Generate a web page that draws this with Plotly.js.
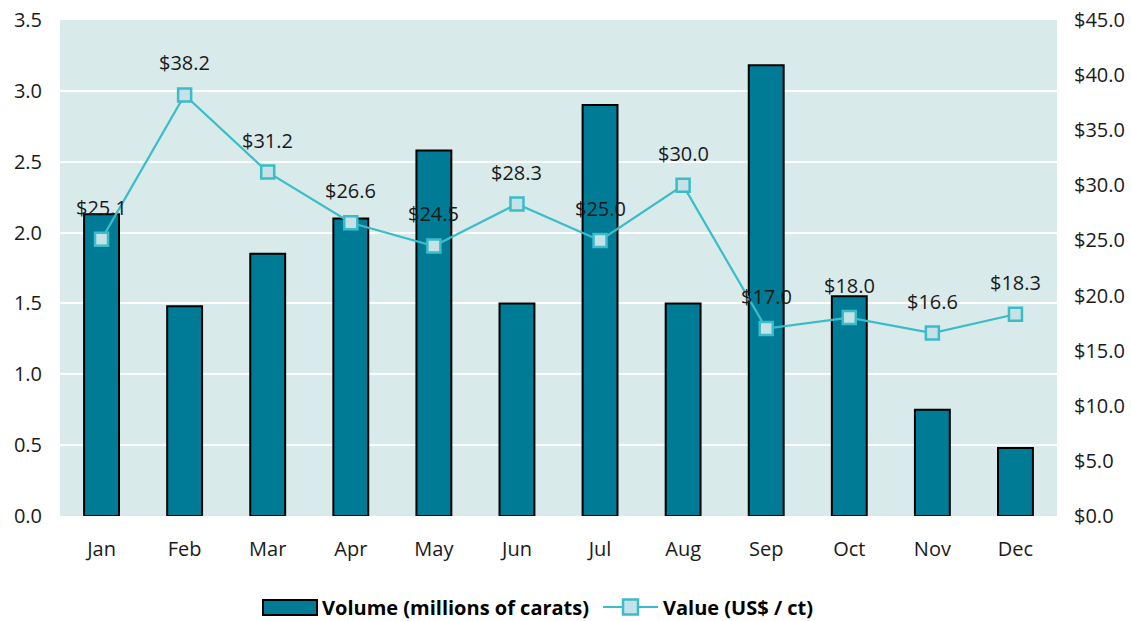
<!DOCTYPE html>
<html>
<head>
<meta charset="utf-8">
<script src="https://cdn.plot.ly/plotly-3.0.1.min.js"></script>
<style>
  html, body { margin: 0; padding: 0; background: #ffffff; }
  #chart { width: 1131px; height: 621px; }
</style>
</head>
<body>
<div id="chart"></div>
<script>
// Monthly rough diamond sales: volume (bars) and average value (line)
const months = ['Jan', 'Feb', 'Mar', 'Apr', 'May', 'Jun', 'Jul', 'Aug', 'Sep', 'Oct', 'Nov', 'Dec'];
const volume = [2.13, 1.48, 1.85, 2.10, 2.58, 1.50, 2.90, 1.50, 3.18, 1.55, 0.75, 0.48];
const value = [25.1, 38.2, 31.2, 26.6, 24.5, 28.3, 25.0, 30.0, 17.0, 18.0, 16.6, 18.3];

const leftTicks = [0, 0.5, 1, 1.5, 2, 2.5, 3, 3.5];
const rightTicks = [0, 5, 10, 15, 20, 25, 30, 35, 40, 45];

const volumeName = 'Volume (millions of carats)';
const valueName = 'Value (US$ / ct)';

const FONT = '"Open Sans", "Noto Sans", sans-serif';
const TEXT_SIZE = 20;
const BAR_COLOR = '#007b96';
const LINE_COLOR = '#3bbcc9';
const MARKER_FILL = '#c5e3e6';

// Plot area in pixels (used to place the hand-built legend)
const W = 1131, H = 621;
const M = { l: 60, r: 74, t: 20, b: 105 };
const px = x => (x - M.l) / (W - M.l - M.r);
const py = y => (H - M.b - y) / (H - M.t - M.b);

const traces = [
  {
    type: 'bar',
    name: volumeName,
    x: months,
    y: volume,
    width: 0.42,
    marker: { color: BAR_COLOR, line: { color: '#000000', width: 2 } },
    hoverinfo: 'y'
  },
  {
    type: 'scatter',
    mode: 'lines+markers',
    name: valueName,
    x: months,
    y: value,
    yaxis: 'y2',
    line: { color: LINE_COLOR, width: 2.2 },
    marker: { symbol: 'square', size: 13, color: MARKER_FILL, line: { color: LINE_COLOR, width: 2.5 } },
    cliponaxis: false
  }
];

// Value labels above each point
const valueLabels = months.map((m, i) => ({
  x: m, y: value[i], xref: 'x', yref: 'y2',
  text: '$' + value[i].toFixed(1),
  showarrow: false, yshift: 32,
  font: { family: FONT, size: TEXT_SIZE, color: '#1a1a1a' }
}));

// Legend row below the plot
const legendY = 607;
const legendAnnotations = [
  { x: px(320), y: py(legendY), xref: 'paper', yref: 'paper', xanchor: 'left', yanchor: 'middle',
    text: '<b>' + volumeName + '</b>', showarrow: false,
    font: { family: FONT, size: TEXT_SIZE, color: '#000000' } },
  { x: px(661), y: py(legendY), xref: 'paper', yref: 'paper', xanchor: 'left', yanchor: 'middle',
    text: '<b>' + valueName + '</b>', showarrow: false,
    font: { family: FONT, size: TEXT_SIZE, color: '#000000' } }
];
const legendShapes = [
  { type: 'rect', xref: 'paper', yref: 'paper',
    x0: px(263), x1: px(317), y0: py(600), y1: py(615),
    fillcolor: BAR_COLOR, line: { color: '#000000', width: 2 } },
  { type: 'line', xref: 'paper', yref: 'paper',
    x0: px(603), x1: px(658), y0: py(legendY), y1: py(legendY),
    line: { color: LINE_COLOR, width: 2.2 } },
  { type: 'rect', xref: 'paper', yref: 'paper',
    x0: px(623), x1: px(638), y0: py(legendY - 7.5), y1: py(legendY + 7.5),
    fillcolor: MARKER_FILL, line: { color: LINE_COLOR, width: 2.5 } }
];

const tickFont = { family: FONT, size: TEXT_SIZE, color: '#1a1a1a' };

const layout = {
  width: W,
  height: H,
  margin: M,
  paper_bgcolor: '#ffffff',
  plot_bgcolor: '#d9eaea',
  font: { family: FONT, size: TEXT_SIZE, color: '#1a1a1a' },
  showlegend: false,
  xaxis: {
    type: 'category',
    range: [-0.5, months.length - 0.5],
    showgrid: false,
    zeroline: false,
    showline: false,
    ticks: '',
    ticklabelstandoff: 19,
    tickfont: tickFont
  },
  yaxis: {
    range: [0, 3.5],
    tickvals: leftTicks,
    ticktext: leftTicks.map(v => v.toFixed(1)),
    showgrid: true,
    gridcolor: '#ffffff',
    gridwidth: 2,
    zeroline: false,
    showline: false,
    ticks: '',
    ticklabelstandoff: 17,
    tickfont: tickFont
  },
  yaxis2: {
    overlaying: 'y',
    side: 'right',
    range: [0, 45],
    tickvals: rightTicks,
    ticktext: rightTicks.map(v => '$' + v.toFixed(1)),
    showgrid: false,
    zeroline: false,
    showline: false,
    ticks: '',
    ticklabelstandoff: 16,
    tickfont: tickFont
  },
  annotations: valueLabels.concat(legendAnnotations),
  shapes: legendShapes
};

Plotly.newPlot('chart', traces, layout, { displayModeBar: false, staticPlot: true });
</script>
</body>
</html>
